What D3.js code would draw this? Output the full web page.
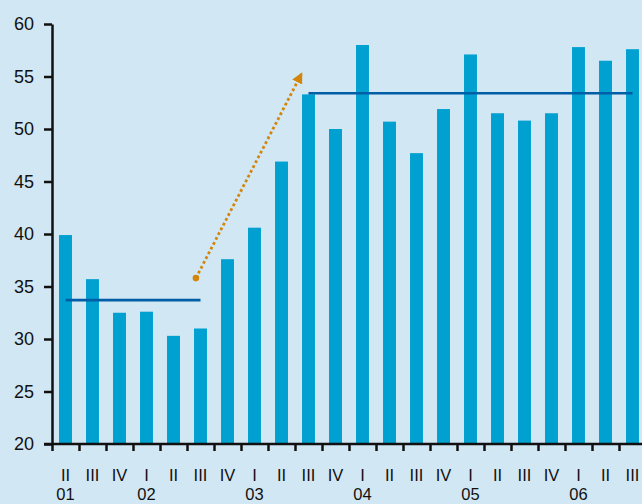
<!DOCTYPE html>
<html>
<head>
<meta charset="utf-8">
<script src="https://cdn.jsdelivr.net/npm/d3@7"></script>
<style>
  html, body { margin: 0; padding: 0; background: #d1e7f3; }
  svg { display: block; }
</style>
</head>
<body>
<svg id="chart" width="642" height="504"></svg>
<script>
// ---- data ----
const quarters = ["II","III","IV","I","II","III","IV","I","II","III","IV","I","II","III","IV","I","II","III","IV","I","II","III"];
const values   = [39.9, 35.7, 32.5, 32.6, 30.3, 31.0, 37.6, 40.6, 46.9, 53.3, 50.0, 58.0, 50.7, 47.7, 51.9, 57.1, 51.5, 50.8, 51.5, 57.8, 56.5, 57.6];
const yearLabels = ["01","02","03","04","05","06"];
const yearIndex  = [0, 3, 7, 11, 15, 19];
const yTicks = [20, 25, 30, 35, 40, 45, 50, 55, 60];
// average levels: first/last bar index and level
const avgFrom  = [0, 9];
const avgTo    = [5, 21];
const avgValue = [33.7, 53.4];
// arrow annotation (positions in quarter units, values in chart units)
const arrowFrom = [5.33, 35.8];
const arrowTo   = [9.25, 55.3];

(function () {
const W = 642, H = 504;
const mLeft = 52, mRight = 646, mTop = 24, mBottom = 444;
const svg = d3.select("#chart");
const font = "'Liberation Sans', Arial, sans-serif";

svg.append("rect").attr("width", W).attr("height", H).attr("fill", "#d1e7f3");

const x = d3.scaleBand().domain(d3.range(values.length)).range([mLeft, mRight])
  .paddingInner(0.52).paddingOuter(0.26);
const xq = d3.scaleLinear().domain([0, values.length]).range([mLeft, mRight]);
const y = d3.scaleLinear().domain([20, 60]).range([mBottom, mTop]);

// bars
svg.append("g").selectAll("rect").data(values).join("rect")
  .attr("x", (d, i) => x(i))
  .attr("width", x.bandwidth())
  .attr("y", d => y(d))
  .attr("height", d => y(20) - y(d))
  .attr("fill", "#00a0d1");

// average lines
svg.append("g").selectAll("line").data(avgValue).join("line")
  .attr("x1", (d, i) => x(avgFrom[i]) + x.bandwidth() / 2)
  .attr("x2", (d, i) => x(avgTo[i]) + x.bandwidth() / 2)
  .attr("y1", d => y(d)).attr("y2", d => y(d))
  .attr("stroke", "#005ea6").attr("stroke-width", 2.6);

// arrow
const defs = svg.append("defs");
defs.append("marker").attr("id", "ah")
  .attr("viewBox", "0 0 10 10").attr("refX", 9).attr("refY", 5)
  .attr("markerWidth", 11).attr("markerHeight", 11)
  .attr("markerUnits", "userSpaceOnUse")
  .attr("orient", "auto")
  .append("path").attr("d", "M0,0 L10,5 L0,10 Z").attr("fill", "#d4850c");

const ax1 = xq(arrowFrom[0]), ay1 = y(arrowFrom[1]);
const ax2 = xq(arrowTo[0]), ay2 = y(arrowTo[1]);
svg.append("line")
  .attr("x1", ax1).attr("y1", ay1).attr("x2", ax2).attr("y2", ay2)
  .attr("stroke", "#d4850c").attr("stroke-width", 2.8)
  .attr("stroke-dasharray", "2.8 2.6")
  .attr("marker-end", "url(#ah)");
svg.append("circle").attr("cx", ax1).attr("cy", ay1).attr("r", 3.3).attr("fill", "#d4850c");

// y axis
const yAxis = d3.axisLeft(y).tickValues(yTicks).tickSize(8).tickSizeOuter(0).tickPadding(10);
const gy = svg.append("g").attr("transform", `translate(${mLeft},0)`).call(yAxis);
gy.select(".domain").attr("stroke", "#111").attr("stroke-width", 2.5);
gy.selectAll(".tick line").attr("stroke", "#111").attr("stroke-width", 2.5);
gy.selectAll(".tick text").attr("fill", "#111").style("font-family", font).style("font-size", "18px");

// x axis ticks
const xAxis = d3.axisBottom(xq).tickValues(d3.range(values.length + 1)).tickSize(7).tickSizeOuter(0).tickFormat("");
const gx = svg.append("g").attr("transform", `translate(0,${mBottom})`).call(xAxis);
gx.select(".domain").remove();
gx.selectAll(".tick line").attr("stroke", "#111").attr("stroke-width", 2.5);
svg.append("line").attr("x1", 44).attr("x2", W).attr("y1", mBottom).attr("y2", mBottom)
  .attr("stroke", "#111").attr("stroke-width", 2.5);

// quarter labels
svg.append("g").selectAll("text").data(quarters).join("text")
  .attr("x", (d, i) => x(i) + x.bandwidth() / 2)
  .attr("y", 481)
  .attr("text-anchor", "middle")
  .style("font-family", font).style("font-size", "16.5px").attr("fill", "#111")
  .text(d => d);

// year labels
svg.append("g").selectAll("text").data(yearLabels).join("text")
  .attr("x", (d, i) => x(yearIndex[i]) + x.bandwidth() / 2)
  .attr("y", 500)
  .attr("text-anchor", "middle")
  .style("font-family", font).style("font-size", "16.5px").attr("fill", "#111")
  .text(d => d);
})();
</script>
</body>
</html>
